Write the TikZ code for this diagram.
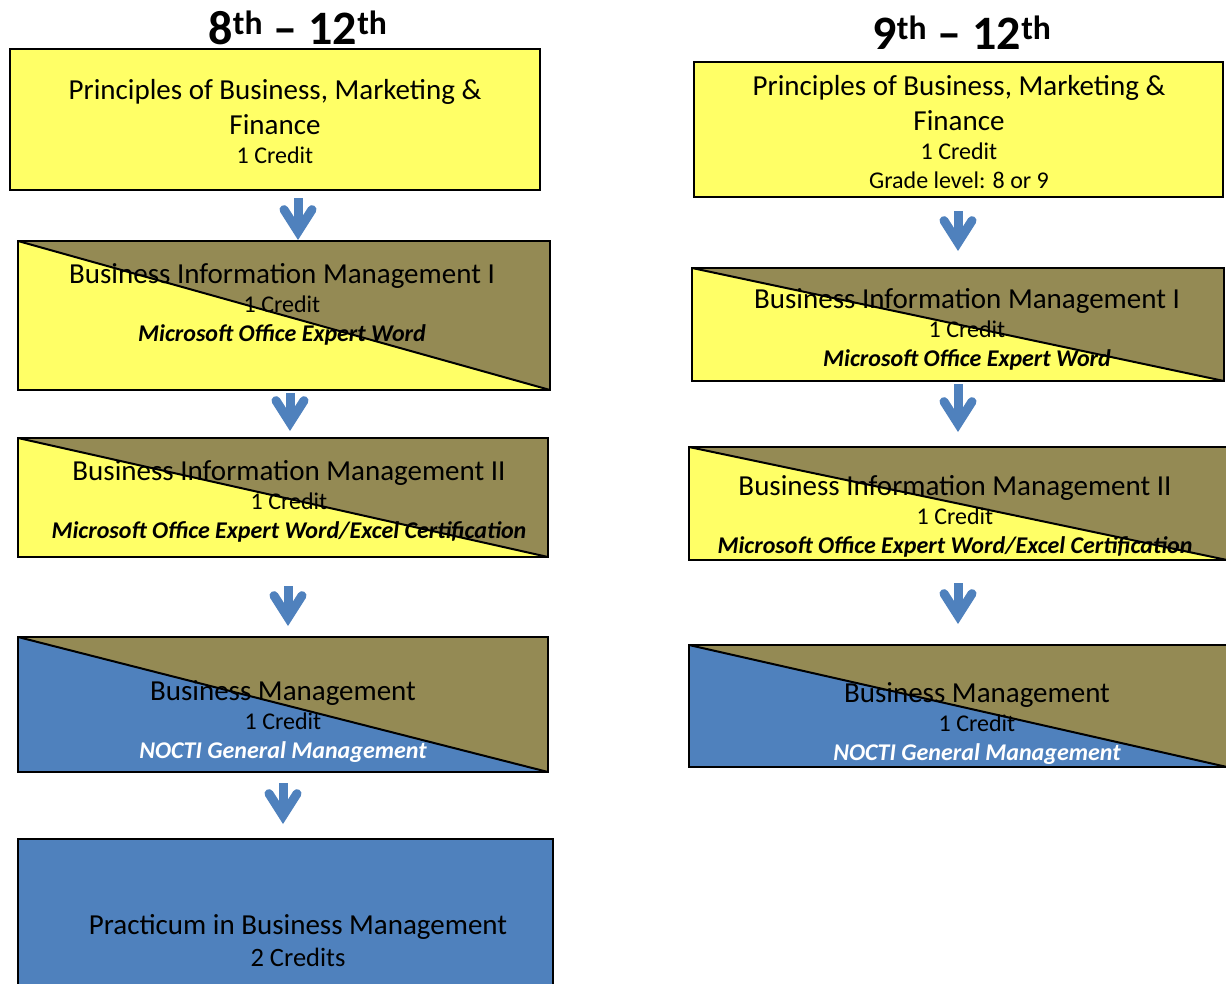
\documentclass[tikz,border=0pt]{standalone}
\usepackage{fontspec}
\setmainfont{Carlito}
\usetikzlibrary{shapes,arrows.meta}
\definecolor{lemon}{RGB}{255,255,102}
\definecolor{khaki}{RGB}{148,138,84}
\definecolor{steel}{RGB}{79,129,189}
\newcommand{\bigfont}{\fontsize{29}{35}\selectfont}
\newcommand{\smallfont}{\fontsize{24}{29}\selectfont}
\newcommand{\headfont}{\fontsize{48}{56}\selectfont\bfseries}
\newcommand{\cert}{\bfseries\itshape}
\tikzstyle{block} = [rectangle, draw, line width=2pt, inner sep=0pt]
\tikzstyle{words} = [align=center, font=\smallfont, inner sep=0pt]
\tikzstyle{flow} = [draw=steel, line width=9pt, -{Straight Barb[length=22pt,width=28pt,line cap=round]}]
\tikzset{split/.style={block, fill=#1, path picture={
  \fill[khaki] (path picture bounding box.north west) -- (path picture bounding box.north east)
    -- (path picture bounding box.south east) -- cycle;
  \draw[line width=2pt] (path picture bounding box.north west) -- (path picture bounding box.south east);}}}

\begin{document}
\begin{tikzpicture}[x=1pt, y=-1pt]
	\useasboundingbox (0,0) rectangle (1226,983);
	\clip (0,0) rectangle (1226,983);
	% Place nodes
	\node [anchor=base, font=\headfont] (title8) at (298,44) {8\textsuperscript{th} -- 12\textsuperscript{th}};
	\node [block, fill=lemon, minimum width=530pt, minimum height=141pt] (pbmf8) at (275,119.5) {};
	\node [split=lemon, minimum width=532pt, minimum height=149pt] (bim8) at (284,315.5) {};
	\node [split=lemon, minimum width=530pt, minimum height=119pt] (bimtwo8) at (283,497.5) {};
	\node [split=steel, minimum width=530pt, minimum height=135pt] (bm8) at (283,704.5) {};
	\node [block, fill=steel, minimum width=535pt, minimum height=202pt] (prac8) at (285.5,940) {};
	\node [words] (pbmf8txt) at (275,122) {{\bigfont Principles of Business, Marketing \&}\\[6pt]{\bigfont Finance}\\1 Credit};
	\node [words] (bim8txt) at (282,304) {{\bigfont Business Information Management I}\\1 Credit\\{\cert Microsoft Office Expert Word}};
	\node [words] (bimtwo8txt) at (289,501) {{\bigfont Business Information Management II}\\1 Credit\\{\cert Microsoft Office Expert Word/Excel Certification}};
	\node [words] (bm8txt) at (283,721.5) {{\bigfont Business Management}\\1 Credit\\{\cert\color{white} NOCTI General Management}};
	\node [words] (prac8txt) at (298,940.5) {{\bigfont Practicum in Business Management}\\[3pt]{\fontsize{26.5}{30}\selectfont 2 Credits}};
	\path [flow, shorten <=7pt] ([xshift=23pt]pbmf8.south) -- ([xshift=14pt]bim8.north);
	\path [flow, shorten <=2pt, shorten >=6pt] ([xshift=6pt]bim8.south) -- ([xshift=7pt]bimtwo8.north);
	\path [flow, shorten <=28pt, shorten >=10pt] ([xshift=5pt]bimtwo8.south) -- ([xshift=5pt]bm8.north);
	\path [flow, shorten <=10pt, shorten >=14pt] (bm8.south) -- ([xshift=-2.5pt]prac8.north);

	% Place nodes
	\node [anchor=base, font=\headfont] (title9) at (962,49) {9\textsuperscript{th} -- 12\textsuperscript{th}};
	\node [block, fill=lemon, minimum width=529pt, minimum height=135pt] (pbmf9) at (958.5,129.5) {};
	\node [split=lemon, minimum width=532pt, minimum height=113pt] (bim9) at (958,324.5) {};
	\node [split=lemon, minimum width=538pt, minimum height=113pt] (bimtwo9) at (958,503.5) {};
	\node [split=steel, minimum width=538pt, minimum height=122pt] (bm9) at (958,706) {};
	\node [words] (pbmf9txt) at (959,132) {{\bigfont Principles of Business, Marketing \&}\\[6pt]{\bigfont Finance}\\1 Credit\\Grade level: 8 or 9};
	\node [words] (bim9txt) at (967,329) {{\bigfont Business Information Management I}\\1 Credit\\{\cert Microsoft Office Expert Word}};
	\node [words] (bimtwo9txt) at (955,516) {{\bigfont Business Information Management II}\\1 Credit\\{\cert Microsoft Office Expert Word/Excel Certification}};
	\node [words] (bm9txt) at (977,724) {{\bigfont Business Management}\\1 Credit\\{\cert\color{white} NOCTI General Management}};
	\path [flow, shorten <=13pt, shorten >=16pt] ([xshift=-0.5pt]pbmf9.south) -- (bim9.north);
	\path [flow, shorten <=2pt, shorten >=14pt] (bim9.south) -- (bimtwo9.north);
	\path [flow, shorten <=22pt, shorten >=20pt] (bimtwo9.south) -- (bm9.north);
\end{tikzpicture}
\end{document}
